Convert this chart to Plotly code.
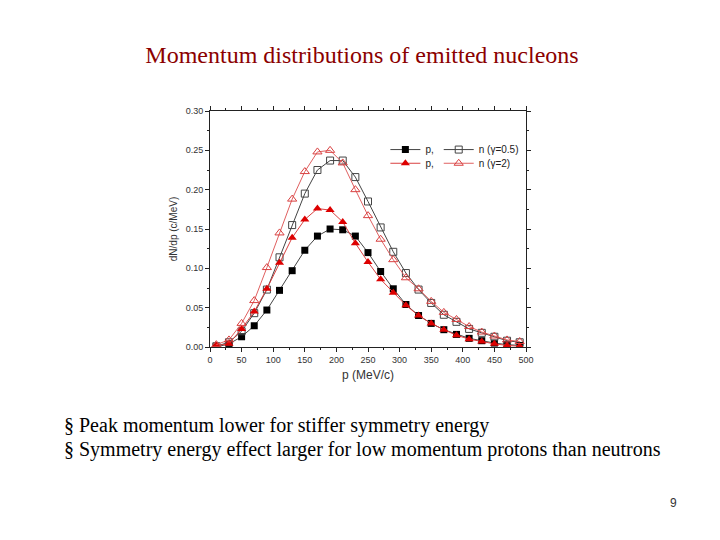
import plotly.graph_objects as go

# momentum (MeV/c)
p_mom = [10, 30, 50, 70, 90, 110, 130, 150, 170, 190, 210, 230, 250,
         270, 290, 310, 330, 350, 370, 390, 410, 430, 450, 470, 490]

# dN/dp (c/MeV)
prot_g05 = [0.000, 0.004, 0.013, 0.027, 0.047, 0.072, 0.097, 0.123, 0.141, 0.150, 0.149, 0.141, 0.120,
            0.096, 0.074, 0.054, 0.040, 0.030, 0.022, 0.016, 0.011, 0.008, 0.005, 0.003, 0.002]
neut_g05 = [0.001, 0.006, 0.020, 0.043, 0.073, 0.114, 0.155, 0.195, 0.225, 0.237, 0.237, 0.216, 0.185,
            0.152, 0.121, 0.094, 0.073, 0.056, 0.041, 0.032, 0.023, 0.018, 0.013, 0.008, 0.006]
prot_g2 = [0.002, 0.004, 0.023, 0.045, 0.074, 0.107, 0.139, 0.162, 0.176, 0.174, 0.159, 0.132, 0.108,
           0.086, 0.069, 0.053, 0.040, 0.030, 0.022, 0.015, 0.010, 0.007, 0.004, 0.002, 0.001]
neut_g2 = [0.003, 0.009, 0.030, 0.059, 0.101, 0.145, 0.188, 0.223, 0.248, 0.250, 0.234, 0.200, 0.167,
           0.137, 0.111, 0.088, 0.074, 0.058, 0.044, 0.035, 0.026, 0.019, 0.014, 0.009, 0.007]

title_text = "Momentum distributions of emitted nucleons"
bullets = ["§ Peak momentum lower for stiffer symmetry energy",
           "§ Symmetry energy effect larger for low momentum protons than neutrons"]
page_no = "9"

fig = go.Figure()
fig.add_trace(go.Scatter(x=p_mom, y=prot_g05, mode="lines+markers", name="p,",
                         line=dict(color="#444444", width=1),
                         marker=dict(symbol="square", size=7, color="#000000"),
                         legend="legend"))
fig.add_trace(go.Scatter(x=p_mom, y=neut_g05, mode="lines+markers", name="n (γ=0.5)",
                         line=dict(color="#444444", width=1),
                         marker=dict(symbol="square-open", size=7, color="#444444", line=dict(width=1)),
                         legend="legend"))
fig.add_trace(go.Scatter(x=p_mom, y=prot_g2, mode="lines+markers", name="p,",
                         line=dict(color="#d94040", width=1),
                         marker=dict(symbol="triangle-up", size=8, color="#dd0000"),
                         legend="legend2"))
fig.add_trace(go.Scatter(x=p_mom, y=neut_g2, mode="lines+markers", name="n (γ=2)",
                         line=dict(color="#e06060", width=1),
                         marker=dict(symbol="triangle-up-open", size=8, color="#d94040", line=dict(width=1)),
                         legend="legend2"))

axis_font = dict(family="Liberation Sans, Arial, sans-serif", size=9, color="#333333")

# page has an 8px body margin: figure is 712x532 and offset by 8px
OFF = 8
W, H = 720 - OFF, 540 - OFF
L, T = 210 - OFF, 111 - OFF
R, B = 720 - 526, 540 - 347
plot_w = W - L - R
plot_h = H - T - B

fig.update_layout(
    width=W, height=H,
    paper_bgcolor="white", plot_bgcolor="white",
    margin=dict(l=L, r=R, t=T, b=B),
    title=dict(text=title_text, x=(362 - OFF) / W, xanchor="center", y=1 - (55 - OFF) / H, yanchor="middle",
               yref="container",
               font=dict(family="Liberation Serif, Times New Roman, serif", size=24, color="#8b0000")),
    xaxis=dict(range=[0, 500], tickvals=[0, 50, 100, 150, 200, 250, 300, 350, 400, 450, 500],
               showgrid=False, zeroline=False, showline=True, linecolor="#222222", linewidth=1,
               mirror="ticks", ticks="outside", ticklen=4, tickcolor="#222222",
               minor=dict(ticks="outside", ticklen=2, dtick=25, tickcolor="#222222"),
               tickfont=axis_font,
               title=dict(text="p (MeV/c)", font=dict(family="Liberation Sans, Arial, sans-serif", size=12, color="#333333"),
                          standoff=6)),
    yaxis=dict(range=[0, 0.30], tickvals=[0, 0.05, 0.10, 0.15, 0.20, 0.25, 0.30], tickformat=".2f",
               showgrid=False, zeroline=False, showline=True, linecolor="#222222", linewidth=1,
               mirror="ticks", ticks="outside", ticklen=4, tickcolor="#222222",
               minor=dict(ticks="outside", ticklen=2, dtick=0.025, tickcolor="#222222"),
               tickfont=axis_font,
               title=dict(text="dN/dp (c/MeV)", font=dict(family="Liberation Sans, Arial, sans-serif", size=10, color="#333333"),
                          standoff=6)),
    legend=dict(orientation="h", x=0.555, y=0.898, xanchor="left", yanchor="top",
                bgcolor="rgba(0,0,0,0)", font=dict(family="Liberation Sans, Arial, sans-serif", size=10, color="#222222"),
                itemwidth=30, tracegroupgap=0),
    legend2=dict(orientation="h", x=0.555, y=0.84, xanchor="left", yanchor="top",
                 bgcolor="rgba(0,0,0,0)", font=dict(family="Liberation Sans, Arial, sans-serif", size=10, color="#222222"),
                 itemwidth=30, tracegroupgap=0),
    showlegend=True,
)

serif = dict(family="Liberation Serif, Times New Roman, serif", size=20, color="#000000")
for i, txt in enumerate(bullets):
    ypx = 425 + 24 * i - OFF
    fig.add_annotation(text=txt, xref="paper", yref="paper",
                       x=(62 - OFF - L) / plot_w, y=(H - B - ypx) / plot_h,
                       xanchor="left", yanchor="middle", showarrow=False, font=serif)
fig.add_annotation(text=page_no, xref="paper", yref="paper",
                   x=(673 - OFF - L) / plot_w, y=(H - B - (503 - OFF)) / plot_h,
                   xanchor="center", yanchor="middle", showarrow=False,
                   font=dict(family="Liberation Sans, Arial, sans-serif", size=12, color="#333333"))

fig.write_html("out.html")
